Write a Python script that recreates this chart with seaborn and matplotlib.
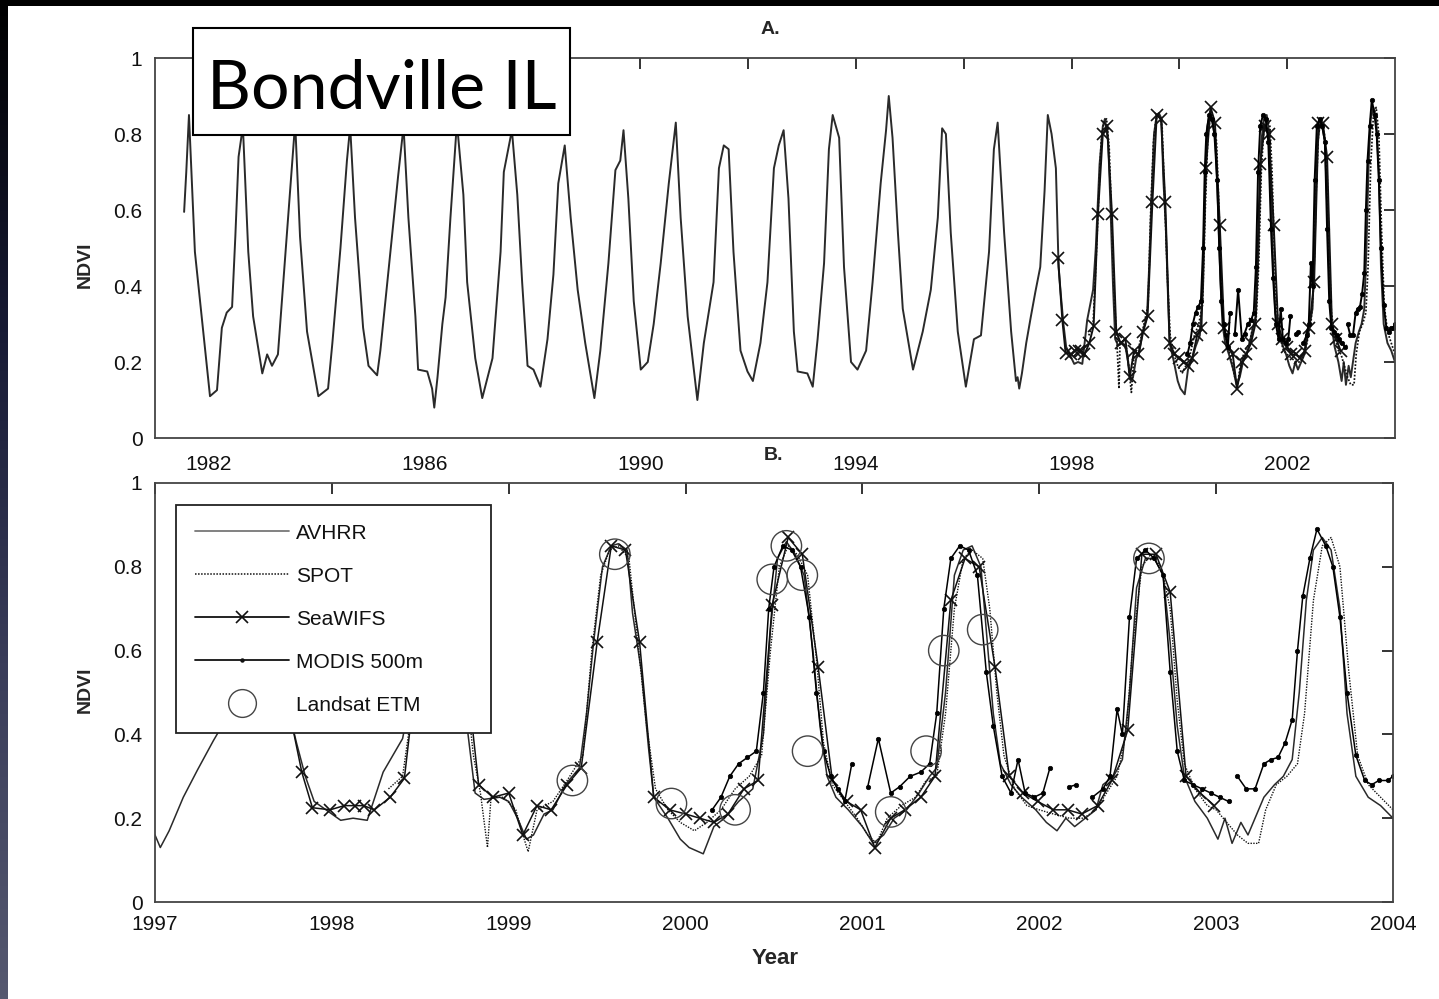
import numpy as np
import pandas as pd
import matplotlib
matplotlib.use("Agg")
import matplotlib.pyplot as plt
import seaborn as sns
from matplotlib.patches import Rectangle
from matplotlib.lines import Line2D
from matplotlib.colors import LinearSegmentedColormap

# ---------------- data ----------------
avhrr_t = [1981.54, 1981.58, 1981.63, 1981.74, 1981.84, 1982.02,
           1982.15, 1982.24, 1982.33, 1982.43, 1982.49, 1982.55, 1982.63, 1982.73, 1982.82, 1982.99,
           1983.08, 1983.17, 1983.28, 1983.38, 1983.47, 1983.60, 1983.69, 1983.82, 1984.03,
           1984.21, 1984.29, 1984.44, 1984.56, 1984.62, 1984.71, 1984.86, 1984.96,
           1985.12, 1985.18, 1985.36, 1985.51, 1985.61, 1985.70, 1985.83, 1985.88,
           1986.05, 1986.14, 1986.18, 1986.24, 1986.33, 1986.39, 1986.48, 1986.60, 1986.72, 1986.79, 1986.94,
           1987.07, 1987.26, 1987.41, 1987.47, 1987.62, 1987.72, 1987.81, 1987.91,
           1988.02, 1988.15, 1988.28, 1988.39, 1988.48, 1988.60, 1988.71, 1988.84, 1988.98,
           1989.15, 1989.26, 1989.41, 1989.54, 1989.63, 1989.69, 1989.78, 1989.88,
           1990.01, 1990.14, 1990.25, 1990.38, 1990.53, 1990.66, 1990.75, 1990.88,
           1991.06, 1991.18, 1991.36, 1991.46, 1991.55, 1991.64, 1991.73, 1991.86, 1991.99,
           1992.09, 1992.23, 1992.36, 1992.48, 1992.57, 1992.66, 1992.75, 1992.85, 1992.92,
           1993.10, 1993.20, 1993.29, 1993.41, 1993.50, 1993.57, 1993.69, 1993.78, 1993.91,
           1994.03, 1994.19, 1994.31, 1994.46, 1994.56, 1994.61, 1994.68, 1994.78, 1994.87,
           1995.06, 1995.24, 1995.39, 1995.52, 1995.60, 1995.67, 1995.76, 1995.89,
           1996.04, 1996.19, 1996.32, 1996.47, 1996.56, 1996.63, 1996.75, 1996.88, 1996.97,
           1997.00, 1997.03, 1997.08, 1997.16, 1997.24, 1997.33, 1997.42, 1997.50, 1997.56, 1997.63,
           1997.71, 1997.76, 1997.80, 1997.85, 1997.90, 1998.00, 1998.05, 1998.12, 1998.20, 1998.29,
           1998.40, 1998.45, 1998.52, 1998.58, 1998.62, 1998.68, 1998.72, 1998.77, 1998.81, 1998.86,
           1998.95, 1999.00, 1999.05, 1999.10, 1999.14, 1999.20, 1999.25, 1999.32, 1999.40, 1999.44,
           1999.48, 1999.53, 1999.58, 1999.62, 1999.67, 1999.70, 1999.75, 1999.79, 1999.82, 1999.90,
           1999.97, 2000.02, 2000.10, 2000.16, 2000.22, 2000.30, 2000.38, 2000.44, 2000.48, 2000.52,
           2000.57, 2000.62, 2000.67, 2000.72, 2000.76, 2000.80, 2000.85, 2000.92, 2001.00, 2001.06,
           2001.12, 2001.18, 2001.25, 2001.32, 2001.38, 2001.42, 2001.47, 2001.52, 2001.57, 2001.62,
           2001.67, 2001.71, 2001.74, 2001.78, 2001.84, 2001.90, 2001.98, 2002.04, 2002.10, 2002.15,
           2002.20, 2002.26, 2002.32, 2002.36, 2002.42, 2002.47, 2002.51, 2002.55, 2002.60, 2002.65,
           2002.70, 2002.74, 2002.78, 2002.82, 2002.88, 2002.95, 2003.01, 2003.05, 2003.09, 2003.14,
           2003.18, 2003.22, 2003.27, 2003.33, 2003.38, 2003.43, 2003.47, 2003.51, 2003.55, 2003.60,
           2003.65, 2003.70, 2003.74, 2003.79, 2003.86, 2003.93, 2004.00]
avhrr_v = [0.595, 0.70, 0.85, 0.49, 0.355, 0.11,
           0.126, 0.29, 0.33, 0.345, 0.53, 0.74, 0.82, 0.49, 0.32, 0.17,
           0.22, 0.19, 0.22, 0.41, 0.58, 0.83, 0.53, 0.28, 0.11,
           0.13, 0.25, 0.50, 0.73, 0.82, 0.58, 0.29, 0.19,
           0.165, 0.23, 0.48, 0.69, 0.82, 0.58, 0.32, 0.18,
           0.175, 0.13, 0.08, 0.16, 0.30, 0.37, 0.58, 0.83, 0.64, 0.41, 0.21,
           0.105, 0.21, 0.49, 0.70, 0.81, 0.64, 0.41, 0.19,
           0.18, 0.135, 0.26, 0.43, 0.67, 0.77, 0.58, 0.39, 0.25,
           0.105, 0.23, 0.46, 0.705, 0.73, 0.81, 0.63, 0.36,
           0.18, 0.20, 0.30, 0.46, 0.67, 0.83, 0.58, 0.32,
           0.10, 0.25, 0.41, 0.71, 0.77, 0.76, 0.49, 0.23, 0.175,
           0.15, 0.25, 0.41, 0.71, 0.77, 0.81, 0.63, 0.28, 0.175,
           0.17, 0.135, 0.26, 0.46, 0.76, 0.85, 0.79, 0.45, 0.20,
           0.18, 0.23, 0.41, 0.67, 0.81, 0.90, 0.79, 0.54, 0.34,
           0.18, 0.28, 0.39, 0.58, 0.815, 0.80, 0.54, 0.28,
           0.135, 0.26, 0.27, 0.49, 0.76, 0.83, 0.54, 0.28, 0.15,
           0.16, 0.13, 0.17, 0.25, 0.315, 0.385, 0.45, 0.65, 0.85, 0.80,
           0.71, 0.45, 0.38, 0.30, 0.24, 0.21, 0.195, 0.20, 0.195, 0.31,
           0.39, 0.50, 0.72, 0.82, 0.84, 0.78, 0.62, 0.40, 0.26, 0.245,
           0.25, 0.24, 0.20, 0.15, 0.16, 0.21, 0.22, 0.28, 0.32, 0.45,
           0.62, 0.80, 0.85, 0.855, 0.84, 0.69, 0.55, 0.37, 0.25, 0.20,
           0.15, 0.13, 0.115, 0.18, 0.20, 0.24, 0.27, 0.40, 0.65, 0.82,
           0.86, 0.83, 0.78, 0.60, 0.42, 0.30, 0.25, 0.22, 0.18, 0.14,
           0.16, 0.20, 0.22, 0.26, 0.30, 0.32, 0.50, 0.78, 0.84, 0.85,
           0.80, 0.60, 0.45, 0.33, 0.28, 0.25, 0.22, 0.19, 0.17, 0.20,
           0.18, 0.20, 0.22, 0.28, 0.30, 0.34, 0.50, 0.75, 0.82, 0.82,
           0.78, 0.62, 0.42, 0.30, 0.24, 0.20, 0.15, 0.20, 0.14, 0.19,
           0.16, 0.20, 0.25, 0.28, 0.30, 0.34, 0.50, 0.72, 0.84, 0.87,
           0.84, 0.70, 0.45, 0.30, 0.25, 0.23, 0.20]

spot_t = [1998.32, 1998.40, 1998.45, 1998.50, 1998.55, 1998.60, 1998.65, 1998.70, 1998.75, 1998.80,
          1998.84, 1998.88, 1998.90, 1998.97, 1999.04, 1999.08, 1999.11, 1999.16, 1999.25, 1999.33,
          1999.42, 1999.47, 1999.52, 1999.57, 1999.62, 1999.68, 1999.73, 1999.78, 1999.83, 1999.90,
          1999.97, 2000.05, 2000.12, 2000.20, 2000.28, 2000.36, 2000.43, 2000.48, 2000.53, 2000.58,
          2000.63, 2000.69, 2000.74, 2000.78, 2000.83, 2000.90, 2000.97, 2001.03, 2001.08, 2001.14,
          2001.22, 2001.30, 2001.36, 2001.42, 2001.47, 2001.52, 2001.57, 2001.62, 2001.68, 2001.72,
          2001.76, 2001.80, 2001.86, 2001.93, 2002.00, 2002.08, 2002.17, 2002.25, 2002.32, 2002.38,
          2002.44, 2002.49, 2002.53, 2002.58, 2002.63, 2002.69, 2002.74, 2002.78, 2002.82, 2002.88,
          2002.95, 2003.00, 2003.06, 2003.12, 2003.18, 2003.24, 2003.28, 2003.34, 2003.40, 2003.46,
          2003.50, 2003.55, 2003.60, 2003.65, 2003.70, 2003.75, 2003.80, 2003.86, 2003.93, 2004.00]
spot_v = [0.27, 0.30, 0.45, 0.62, 0.78, 0.83, 0.84, 0.76, 0.55, 0.35,
          0.26, 0.13, 0.25, 0.25, 0.22, 0.16, 0.12, 0.22, 0.24, 0.29,
          0.35, 0.60, 0.78, 0.84, 0.85, 0.82, 0.62, 0.42, 0.27, 0.22,
          0.19, 0.17, 0.19, 0.22, 0.27, 0.30, 0.35, 0.60, 0.80, 0.85,
          0.83, 0.78, 0.58, 0.38, 0.28, 0.24, 0.20, 0.16, 0.14, 0.20,
          0.23, 0.25, 0.29, 0.30, 0.45, 0.70, 0.82, 0.84, 0.82, 0.70,
          0.50, 0.35, 0.27, 0.23, 0.22, 0.21, 0.20, 0.20, 0.22, 0.26,
          0.30, 0.40, 0.62, 0.80, 0.83, 0.80, 0.70, 0.48, 0.33, 0.27,
          0.23, 0.22, 0.19, 0.16, 0.14, 0.14, 0.22, 0.28, 0.30, 0.33,
          0.45, 0.72, 0.85, 0.87, 0.80, 0.55, 0.35, 0.28, 0.25, 0.22]

seawifs_t = [1997.75, 1997.83, 1997.89, 1997.99, 1998.07, 1998.13, 1998.18, 1998.24, 1998.33, 1998.41,
             1998.49, 1998.58, 1998.66, 1998.75, 1998.83, 1998.91, 1999.00, 1999.08, 1999.16, 1999.24,
             1999.33, 1999.41, 1999.50, 1999.58, 1999.66, 1999.74, 1999.82, 1999.91, 2000.00, 2000.08,
             2000.16, 2000.24, 2000.33, 2000.41, 2000.49, 2000.58, 2000.66, 2000.75, 2000.83, 2000.91,
             2000.99, 2001.07, 2001.16, 2001.24, 2001.33, 2001.41, 2001.50, 2001.58, 2001.66, 2001.75,
             2001.83, 2001.91, 2001.99, 2002.08, 2002.16, 2002.24, 2002.33, 2002.41, 2002.50, 2002.58,
             2002.66, 2002.74, 2002.83, 2002.91, 2002.99]
seawifs_v = [0.475, 0.31, 0.225, 0.22, 0.23, 0.23, 0.23, 0.22, 0.25, 0.295,
             0.59, 0.80, 0.82, 0.59, 0.28, 0.25, 0.26, 0.16, 0.23, 0.22,
             0.28, 0.32, 0.62, 0.85, 0.84, 0.62, 0.25, 0.22, 0.21, 0.20,
             0.19, 0.21, 0.27, 0.29, 0.71, 0.87, 0.83, 0.56, 0.29, 0.24,
             0.22, 0.13, 0.20, 0.22, 0.25, 0.30, 0.72, 0.82, 0.80, 0.56,
             0.30, 0.26, 0.24, 0.22, 0.22, 0.21, 0.23, 0.29, 0.41, 0.83,
             0.83, 0.74, 0.30, 0.26, 0.23]

modis_t = [2000.15, 2000.20, 2000.25, 2000.30, 2000.35, 2000.40, 2000.44, 2000.47, 2000.50, 2000.55,
           2000.60, 2000.65, 2000.70, 2000.74, 2000.78, 2000.82, 2000.86, 2000.90, 2000.94, 2000.98,
           2001.03, 2001.09, 2001.16, 2001.21, 2001.27, 2001.33, 2001.38, 2001.42, 2001.46, 2001.50,
           2001.55, 2001.60, 2001.65, 2001.70, 2001.74, 2001.79, 2001.84, 2001.88, 2001.92, 2001.97,
           2002.02, 2002.06, 2002.10, 2002.17, 2002.21, 2002.25, 2002.30, 2002.36, 2002.40, 2002.44,
           2002.47, 2002.51, 2002.55, 2002.60, 2002.65, 2002.70, 2002.74, 2002.78, 2002.82, 2002.87,
           2002.92, 2002.97, 2003.02, 2003.07, 2003.10, 2003.12, 2003.17, 2003.22, 2003.27, 2003.31,
           2003.35, 2003.39, 2003.43, 2003.46, 2003.49, 2003.53, 2003.57, 2003.62, 2003.66, 2003.70,
           2003.74, 2003.79, 2003.84, 2003.88, 2003.92, 2003.97, 2004.00]
modis_v = [0.22, 0.25, 0.30, 0.33, 0.345, 0.36, 0.50, 0.70, 0.80, 0.85,
           0.84, 0.80, 0.68, 0.50, 0.36, 0.30, 0.27, 0.24, 0.33, np.nan,
           0.275, 0.39, 0.26, 0.275, 0.30, 0.31, 0.33, 0.45, 0.70, 0.82,
           0.85, 0.84, 0.78, 0.55, 0.42, 0.30, 0.26, 0.34, 0.26, 0.25,
           0.26, 0.32, np.nan, 0.275, 0.28, np.nan, 0.25, 0.27, 0.30, 0.46,
           0.40, 0.68, 0.82, 0.84, 0.82, 0.78, 0.55, 0.36, 0.29, 0.28,
           0.27, 0.26, 0.25, 0.24, np.nan, 0.30, 0.27, 0.27, 0.33, 0.34,
           0.345, 0.38, 0.435, 0.60, 0.73, 0.82, 0.89, 0.85, 0.80, 0.68,
           0.50, 0.35, 0.29, 0.28, 0.29, 0.29, 0.30]

landsat_t = [1999.36, 1999.60, 1999.92, 2000.28, 2000.49, 2000.57, 2000.66, 2000.69,
             2001.16, 2001.36, 2001.46, 2001.68, 2002.62]
landsat_v = [0.29, 0.83, 0.235, 0.22, 0.77, 0.85, 0.78, 0.36,
             0.215, 0.36, 0.60, 0.65, 0.82]

series_labels = ["AVHRR", "SPOT", "SeaWIFS", "MODIS 500m", "Landsat ETM"]
yticks = [0, 0.2, 0.4, 0.6, 0.8, 1.0]
ytick_labels = ["0", "0.2", "0.4", "0.6", "0.8", "1"]
top_year_ticks = [1982, 1984, 1986, 1988, 1990, 1992, 1994, 1996, 1998, 2000, 2002]
top_year_labels = ["1982", "", "1986", "", "1990", "", "1994", "", "1998", "", "2002"]
bottom_year_ticks = [1997, 1998, 1999, 2000, 2001, 2002, 2003, 2004]
bottom_year_labels = ["1997", "1998", "1999", "2000", "2001", "2002", "2003", "2004"]

# ---------------- styling ----------------
sns.set_theme(style="white")
plt.rcParams["font.family"] = ["Liberation Sans", "DejaVu Sans"]

W, H = 1439, 999
fig = plt.figure(figsize=(W / 100, H / 100), dpi=100)
fig.patch.set_facecolor("white")


def fx(px):
    return px / W


def fy(py):
    return 1 - py / H


# slide decoration: black top band and dark-blue gradient strip at left
grad_ax = fig.add_axes([0, 0, fx(8), 1])
grad = np.linspace(0, 1, 256)[:, None]
cm = LinearSegmentedColormap.from_list("slide", ["#000000", "#181b35", "#3a3d5a", "#55586f"])
grad_ax.imshow(grad, aspect="auto", cmap=cm, origin="upper")
grad_ax.set_axis_off()
fig.add_artist(Rectangle((0, fy(6)), 1, 6 / H, transform=fig.transFigure,
                         facecolor="black", edgecolor="none", zorder=20))

axA = fig.add_axes([fx(155), fy(438), fx(1395 - 155), (438 - 58) / H])
axB = fig.add_axes([fx(155), fy(902), fx(1393 - 155), (902 - 483) / H])


def modis_frame():
    df = pd.DataFrame({"t": modis_t, "v": modis_v})
    df["seg"] = df["v"].isna().cumsum()
    return df.dropna()


def draw_series(ax, lw, with_landsat):
    sns.lineplot(x=avhrr_t, y=avhrr_v, ax=ax, color="#2a2a2a", lw=lw,
                 estimator=None, sort=False)
    sns.lineplot(x=spot_t, y=spot_v, ax=ax, color="#111111", lw=lw * 0.9,
                 linestyle=(0, (1, 1)), estimator=None, sort=False)
    sns.lineplot(x=seawifs_t, y=seawifs_v, ax=ax, color="#111111", lw=lw,
                 marker="x", markersize=9, markeredgewidth=1.2,
                 markeredgecolor="#111111", estimator=None, sort=False)
    mdf = modis_frame()
    sns.lineplot(data=mdf, x="t", y="v", units="seg", ax=ax, color="#000000",
                 lw=lw, marker="o", markersize=3.2, markeredgewidth=0.5,
                 markeredgecolor="#000000", estimator=None, sort=False)
    if with_landsat:
        sns.scatterplot(x=landsat_t, y=landsat_v, ax=ax, marker="o", s=480,
                        facecolor="none", edgecolor="#444444", linewidth=1.0, zorder=5)


draw_series(axA, 1.4, False)
draw_series(axB, 1.1, True)

for ax in (axA, axB):
    ax.set_ylim(0, 1)
    ax.set_yticks(yticks)
    ax.set_yticklabels(ytick_labels)
    ax.set_xlabel("")
    ax.set_ylabel("")
    ax.tick_params(direction="in", length=8, width=1.2, top=True, right=True,
                   labelsize=15, colors="#111111")
    ax.tick_params(axis="y", pad=9)
    for sp in ax.spines.values():
        sp.set_color("#444444")
        sp.set_linewidth(1.3)
    ax.set_facecolor("white")

axA.set_xlim(1981, 2004)
axA.set_xticks(top_year_ticks)
axA.set_xticklabels(top_year_labels)
axA.tick_params(axis="x", pad=12)

axB.set_xlim(1997, 2004)
axB.set_xticks(bottom_year_ticks)
axB.set_xticklabels(bottom_year_labels)
axB.tick_params(axis="x", pad=9)

# legend
handles = [
    Line2D([], [], color="#777777", lw=1.3),
    Line2D([], [], color="#111111", lw=1.1, linestyle=(0, (1, 1))),
    Line2D([], [], color="#111111", lw=1.3, marker="x", markersize=9, markeredgewidth=1.2),
    Line2D([], [], color="#111111", lw=1.3, marker="o", markersize=3.2, markeredgewidth=0),
    Line2D([], [], color="#444444", lw=0, marker="o", markersize=20,
           markerfacecolor="none", markeredgewidth=1.0),
]
leg = axB.legend(handles, series_labels, loc="upper left",
                 bbox_to_anchor=((176 - 155) / 1238, 0, (491 - 176) / 1238, (902 - 505) / 419),
                 mode="expand", fontsize=15, handlelength=4.5, handletextpad=0.35,
                 labelspacing=1.15, borderpad=0.9, borderaxespad=0, numpoints=1,
                 frameon=True, fancybox=False, framealpha=1, edgecolor="#222222")
leg.get_frame().set_linewidth(1.3)
for txt in leg.get_texts():
    txt.set_color("#111111")

# titles and axis labels
fig.text(fx(770), fy(30), "A.", fontsize=14, fontweight="bold", ha="center", va="center")
fig.text(fx(774), fy(455), "B.", fontsize=14, fontweight="bold", ha="center", va="center")
fig.text(fx(775), fy(959), "Year", fontsize=16, fontweight="bold", ha="center", va="center")
fig.text(fx(85), fy(265), "NDVI", fontsize=14, fontweight="bold", rotation=90,
         ha="center", va="center")
fig.text(fx(85), fy(690), "NDVI", fontsize=14, fontweight="bold", rotation=90,
         ha="center", va="center")

# site label box
fig.add_artist(Rectangle((fx(193), fy(135)), (570 - 193) / W, (135 - 28) / H,
                         transform=fig.transFigure, facecolor="white",
                         edgecolor="black", linewidth=1.5, zorder=10))
fig.text(fx(382), fy(109), "Bondville IL", fontsize=49, family=["Lato", "DejaVu Sans"],
         ha="center", va="baseline", color="black", zorder=11)

fig.savefig("out.png", dpi=100, facecolor="white")
